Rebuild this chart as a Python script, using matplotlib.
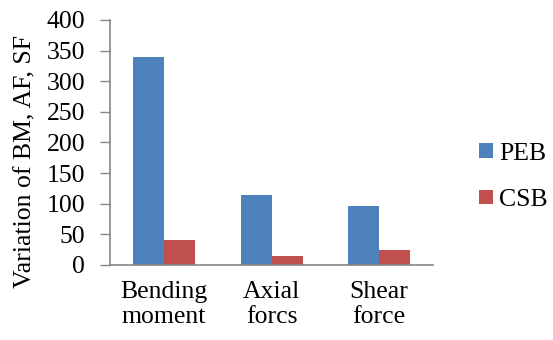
import matplotlib.pyplot as plt
import numpy as np

categories = ['Bending\nmoment', 'Axial\nforcs', 'Shear\nforce']
peb = [340, 115, 97]
csb = [40, 15, 25]

plt.rcParams['font.family'] = ['Liberation Serif', 'DejaVu Serif']
fs = 18.5

fig = plt.figure(figsize=(5.53, 3.4), dpi=100)
ax = fig.add_axes([0.199, 0.2206, 0.584, 0.7206])

x = np.arange(len(categories))
w = 0.288
b1 = ax.bar(x - w / 2, peb, w, color='#4F81BD', label='PEB')
b2 = ax.bar(x + w / 2, csb, w, color='#C0504D', label='CSB')

ax.set_xlim(-0.5, 2.5)
ax.set_ylim(0, 400)
ax.set_yticks(range(0, 401, 50))
ax.set_xticks(x)
ax.set_xticklabels(categories, fontsize=fs, linespacing=1.2)
ax.tick_params(axis='y', labelsize=fs, color='#868686', length=7, width=1, pad=11)
ax.tick_params(axis='x', length=0, pad=11.5)
for s in ['top', 'right']:
    ax.spines[s].set_visible(False)
for s in ['left', 'bottom']:
    ax.spines[s].set_color('#868686')
    ax.spines[s].set_linewidth(1.2)

fig.text(25.5 / 553, 1 - 162 / 340, 'Variation of BM, AF, SF', rotation=90,
         ha='center', va='center', fontsize=fs)

fig.legend(handles=[b1, b2], loc='center left', bbox_to_anchor=(0.866, 0.48),
           frameon=False, fontsize=fs, handlelength=0.55, handleheight=0.5,
           handletextpad=0.25, labelspacing=0.95, borderpad=0, borderaxespad=0)

fig.savefig('out.png', dpi=100)
